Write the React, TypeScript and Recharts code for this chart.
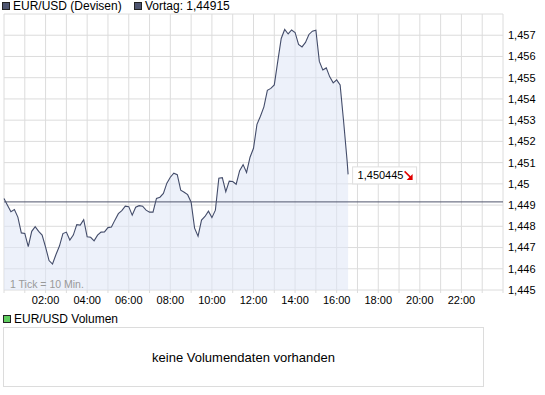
import { AreaChart, Area, XAxis, YAxis, CartesianGrid, ReferenceLine, ReferenceDot } from 'recharts'

// EUR/USD intraday, 1 tick = 10 min starting 00:00
const prices = [
  1.449311, 1.448996, 1.448691, 1.448785, 1.448432, 1.447689, 1.447666, 1.447045, 1.447764, 1.447985,
  1.447764, 1.447586, 1.447022, 1.446387, 1.446222, 1.446669, 1.447069, 1.447656, 1.447727, 1.447351,
  1.447586, 1.448079, 1.448056, 1.448315, 1.447506, 1.447482, 1.447313, 1.447586, 1.447727, 1.447736,
  1.447938, 1.447962, 1.448291, 1.448597, 1.448738, 1.448949, 1.448926, 1.448526, 1.448902, 1.448973,
  1.448949, 1.448761, 1.448667, 1.448667, 1.449316, 1.449372, 1.449551, 1.450031, 1.450313, 1.450501,
  1.450430, 1.449701, 1.449607, 1.449490, 1.449137, 1.447915, 1.447539, 1.448291, 1.448465, 1.448714,
  1.448409, 1.448761, 1.450266, 1.450289, 1.449631, 1.450125, 1.450111, 1.449984, 1.450618, 1.450905,
  1.450538, 1.451253, 1.451676, 1.452804, 1.453181, 1.453627, 1.454403, 1.454497, 1.454662, 1.455766,
  1.456848, 1.457271, 1.457059, 1.457247, 1.457130, 1.456566, 1.456448, 1.456660, 1.457036, 1.457191,
  1.457238, 1.455766, 1.455362, 1.455461, 1.455038, 1.454755, 1.454897, 1.454662, 1.452945, 1.451112,
]
const lastQuoteHour = 16.55
const lastQuote = 1.450445
const previousClose = 1.44915

const hourTicks = [0, 1, 2, 3, 4, 5, 6, 7, 8, 9, 10, 11, 12, 13, 14, 15, 16, 17, 18, 19, 20, 21, 22, 23, 24]
const priceTicks = [1.445, 1.446, 1.447, 1.448, 1.449, 1.45, 1.451, 1.452, 1.453, 1.454, 1.455, 1.456, 1.457, 1.458]

const data = [
  ...prices.map((p, i) => ({ t: i / 6, p })),
  { t: lastQuoteHour, p: lastQuote },
]

const FONT = '"Liberation Sans", Arial, sans-serif'
const GRID = '#dcdcdc'
const LINE = '#434c6a'

const fmtPrice = (v: number) => v.toFixed(3).replace(/0+$/, '').replace('.', ',')
const fmtHour = (h: number) => (h % 2 === 0 && h > 0 && h < 24 ? `${String(h).padStart(2, '0')}:00` : '')

function QuoteBox(props: any) {
  const { cx, cy } = props
  if (cx == null || cy == null) return null
  const x = cx + 4.5
  const y = cy - 7.5
  return (
    <g>
      <rect x={x} y={y} width={64} height={17} fill="#fff" stroke="#dedede" />
      <text x={x + 5} y={y + 12.5} fontSize={11} fontFamily={FONT} fill="#000">
        {String(lastQuote).replace('.', ',')}
      </text>
      <line x1={x + 52} y1={y + 4.5} x2={x + 58} y2={y + 10.5} stroke="#e00000" strokeWidth={1.5} />
      <polygon points={`${x + 60},${y + 7} ${x + 60},${y + 13} ${x + 54},${y + 13}`} fill="#e00000" />
    </g>
  )
}

export default function App() {
  return (
    <div style={{ position: 'absolute', left: 0, top: 0, width: 545, height: 395, background: '#fff', fontFamily: FONT, fontSize: 12 }}>
      {/* legend */}
      <div style={{ position: 'absolute', left: 2, top: 1, display: 'flex', alignItems: 'center', height: 10 }}>
        <span style={{ width: 6, height: 6, background: '#4e5570', border: '1px solid #222', display: 'inline-block' }} />
        <span style={{ marginLeft: 3, lineHeight: '10px' }}>EUR/USD (Devisen)</span>
      </div>
      <div style={{ position: 'absolute', left: 134, top: 1, display: 'flex', alignItems: 'center', height: 10 }}>
        <span style={{ width: 6, height: 6, background: '#4e5570', border: '1px solid #222', display: 'inline-block' }} />
        <span style={{ marginLeft: 3, lineHeight: '10px' }}>Vortag: 1,44915</span>
      </div>

      <div style={{ position: 'absolute', left: 0, top: 0 }}>
        <AreaChart width={545} height={312} data={data} margin={{ top: 14, right: 0, bottom: 0, left: 4 }}>
          <CartesianGrid stroke={GRID} strokeWidth={1} />
          <XAxis
            dataKey="t"
            type="number"
            domain={[0, 24]}
            ticks={hourTicks}
            tickFormatter={fmtHour}
            height={22}
            axisLine={false}
            tickSize={3}
            tickMargin={3}
            tickLine={{ stroke: GRID }}
            tick={{ fontSize: 11, fontFamily: FONT, fill: '#000' }}
            interval={0}
          />
          <YAxis
            orientation="right"
            type="number"
            domain={[1.445, 1.458]}
            ticks={priceTicks}
            tickFormatter={(v: number) => (v > 1.4575 ? '' : fmtPrice(v))}
            width={42}
            axisLine={false}
            tickLine={false}
            tickSize={0}
            tickMargin={5}
            tick={{ fontSize: 11, fontFamily: FONT, fill: '#000' }}
            interval={0}
            allowDataOverflow
          />
          <Area
            type="linear"
            dataKey="p"
            stroke={LINE}
            strokeWidth={1.1}
            fill="#dfe5f6"
            fillOpacity={0.55}
            isAnimationActive={false}
            dot={false}
            activeDot={false}
          />
          <ReferenceLine y={previousClose} stroke="#4f556c" strokeWidth={1} />
          <ReferenceDot x={lastQuoteHour} y={lastQuote} r={0} shape={QuoteBox} />
        </AreaChart>
      </div>

      <div style={{ position: 'absolute', left: 10, top: 278, color: '#999', fontSize: 10.5 }}>1 Tick = 10 Min.</div>

      {/* volume panel */}
      <div style={{ position: 'absolute', left: 3, top: 314, display: 'flex', alignItems: 'center', height: 10 }}>
        <span style={{ width: 6, height: 6, background: '#5fcd5f', border: '1px solid #222', display: 'inline-block' }} />
        <span style={{ marginLeft: 3, lineHeight: '10px' }}>EUR/USD Volumen</span>
      </div>
      <div
        style={{
          position: 'absolute', left: 3, top: 327, width: 479, height: 58, border: '1px solid #dcdcdc',
          display: 'flex', alignItems: 'center', justifyContent: 'center', fontSize: 13, color: '#000',
        }}
      >
        keine Volumendaten vorhanden
      </div>
    </div>
  )
}
